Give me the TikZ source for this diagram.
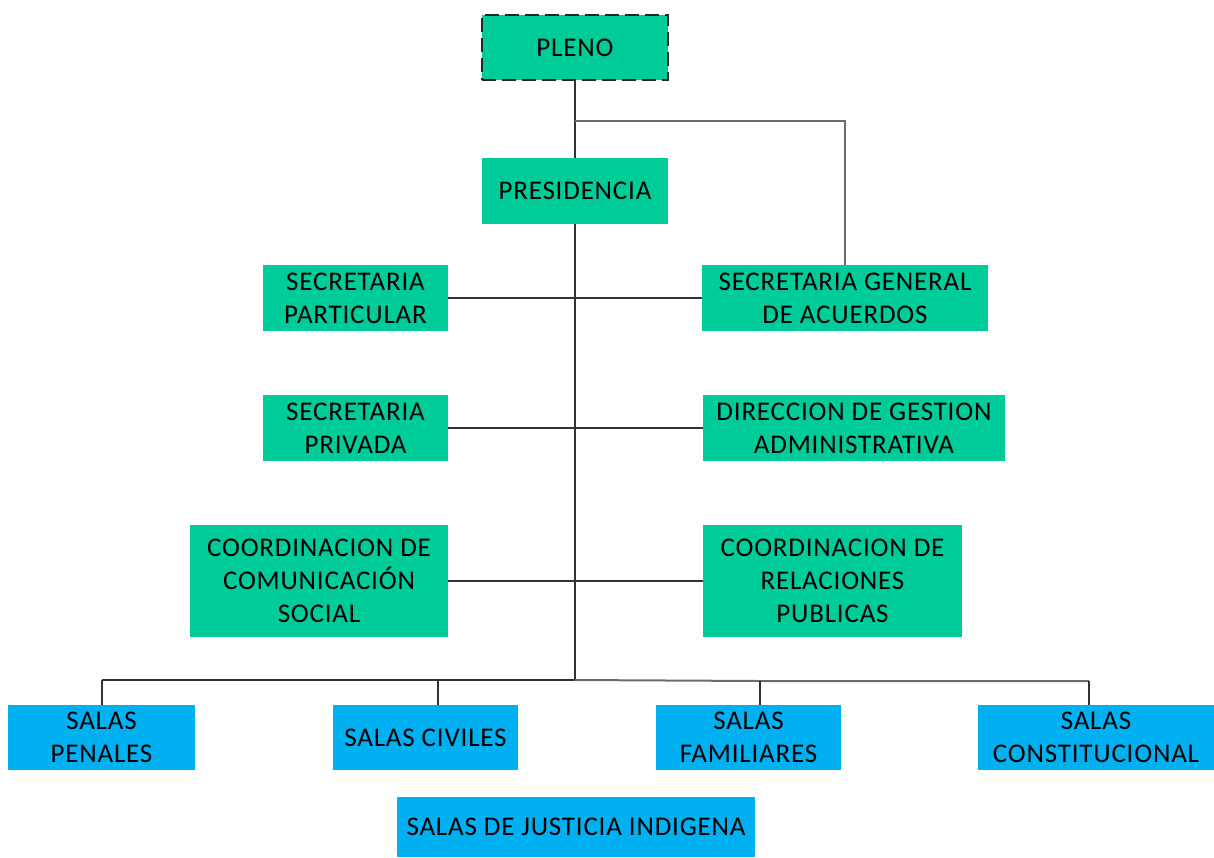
\documentclass[tikz,border=0pt]{standalone}
\usepackage{fontspec}
\setmainfont{Carlito}[LetterSpace=3]
\definecolor{boxgreen}{RGB}{0,204,153}
\definecolor{boxblue}{RGB}{0,176,240}
\definecolor{linegray}{RGB}{50,50,50}
\begin{document}
\begin{tikzpicture}[x=0.5pt,y=-0.5pt,
  every node/.style={font=\fontsize{13.5pt}{16.5pt}\selectfont, align=center, inner sep=0pt, text=black},
  gbox/.style={fill=boxgreen, draw=none},
  bbox/.style={fill=boxblue, draw=none},
  conn/.style={draw=linegray, line width=1pt},
  connlight/.style={draw=gray!85!black, line width=1pt}]
\useasboundingbox (0,0) rectangle (1214,857);

\node[gbox, draw=black!85, line width=1.2pt, dash pattern=on 7pt off 3pt,
  minimum width=93pt, minimum height=32.5pt] (pleno) at (575,47.5) {PLENO};
\node[gbox, minimum width=93pt, minimum height=33pt] (pres) at (575,191) {PRESIDENCIA};
\node[gbox, minimum width=92.5pt, minimum height=33pt] (spart) at (355.5,298) {SECRETARIA\\PARTICULAR};
\node[gbox, minimum width=143pt, minimum height=33pt] (sga) at (845,298) {SECRETARIA GENERAL\\DE ACUERDOS};
\node[gbox, minimum width=92.5pt, minimum height=33pt] (spriv) at (355.5,428) {SECRETARIA\\PRIVADA};
\node[gbox, minimum width=151pt, minimum height=33pt] (dga) at (854,428) {DIRECCION DE GESTION\\ADMINISTRATIVA};
\node[gbox, minimum width=129pt, minimum height=56pt] (ccs) at (319,581) {COORDINACION DE\\COMUNICACIÓN\\SOCIAL};
\node[gbox, minimum width=129.5pt, minimum height=56pt] (crp) at (832.5,581) {COORDINACION DE\\RELACIONES\\PUBLICAS};

\node[bbox, minimum width=93.5pt, minimum height=32.5pt] (pen) at (101.5,737.5) {SALAS\\PENALES};
\node[bbox, minimum width=92.5pt, minimum height=32.5pt] (civ) at (425.5,737.5) {SALAS CIVILES};
\node[bbox, minimum width=92.5pt, minimum height=32.5pt] (fam) at (748.5,737.5) {SALAS\\FAMILIARES};
\node[bbox, minimum width=118pt, minimum height=32.5pt] (con) at (1096,737.5) {SALAS\\CONSTITUCIONAL};
\node[bbox, minimum width=179pt, minimum height=30pt] (ind) at (576,827) {SALAS DE JUSTICIA INDIGENA};

\coordinate (split) at (575,121);
\coordinate (bus) at (575,680);
\coordinate (busL) at (102,680);
\coordinate (busC) at (438,680);
\coordinate (busF) at (760,681);
\coordinate (busR) at (1089,681);

\draw[conn] (pleno.south) -- (pres.north);
\draw[connlight] (split) -| (sga.north);
\draw[conn] (pres.south) -- (bus);
\draw[conn] (spart.east) -- (sga.west);
\draw[conn] (spriv.east) -- (dga.west);
\draw[conn] (ccs.east) -- (crp.west);
\draw[conn] (busL) -- (bus);
\draw[connlight] (bus) -- (busF) -- (busR);
\draw[conn] (busL) -- (busL |- pen.north);
\draw[conn] (busC) -- (busC |- civ.north);
\draw[conn] (busF) -- (busF |- fam.north);
\draw[conn] (busR) -- (busR |- con.north);
\end{tikzpicture}
\end{document}
